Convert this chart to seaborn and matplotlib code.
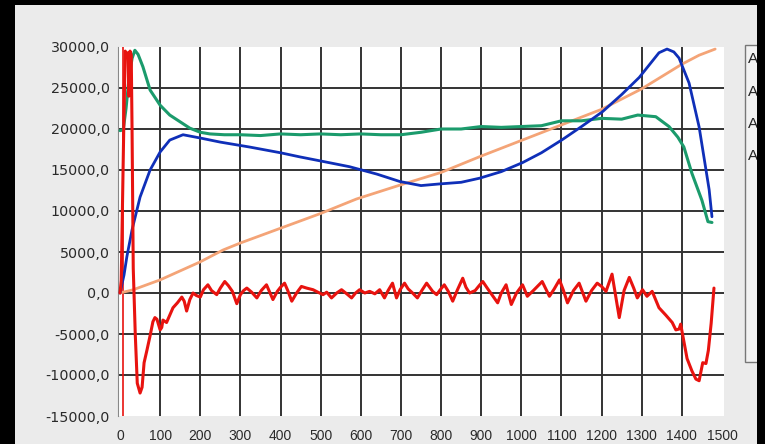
"""Recreate the four-trace recorder chart (grey panel, black grid)."""

import matplotlib.pyplot as plt
import matplotlib.ticker as mticker
import numpy as np
import pandas as pd
import seaborn as sns
from matplotlib.patches import Rectangle

# ---- data --------------------------------------------------------------
orange_x = [0, 33, 100, 200, 257, 300, 400, 500, 589, 700, 800, 900, 1000,
            1100, 1200, 1300, 1400, 1443, 1483]
orange_y = [0, 400, 1600, 3800, 5250, 6100, 7900, 9700, 11460, 13200, 14700,
            16700, 18600, 20500, 22400, 24900, 27900, 29000, 29750]

green_x = [0, 8, 15, 22, 30, 37, 45, 57, 75, 100, 124, 149, 174, 200, 224,
           260, 300, 350, 400, 450, 500, 550, 600, 650, 700, 750, 800, 850,
           900, 950, 1000, 1050, 1100, 1150, 1200, 1250, 1290, 1335, 1368,
           1390, 1405, 1425, 1450, 1465, 1475]
green_y = [19800, 19900, 22500, 26000, 28600, 29600, 29100, 27600, 24750,
           22900, 21700, 20900, 20100, 19600, 19400, 19300, 19300, 19200,
           19400, 19300, 19400, 19300, 19400, 19300, 19300, 19600, 20000,
           20000, 20300, 20200, 20300, 20400, 21000, 21000, 21300, 21200,
           21700, 21500, 20300, 19000, 17800, 14600, 11300, 8700, 8600]

blue_x = [0, 10, 17, 30, 50, 75, 100, 124, 157, 200, 250, 323, 400, 448, 500,
          572, 640, 697, 750, 796, 850, 896, 950, 1003, 1050, 1102, 1150,
          1202, 1250, 1294, 1343, 1363, 1380, 1393, 1418, 1443, 1468, 1475]
blue_y = [0, 2200, 4400, 7700, 11700, 15000, 17200, 18650, 19300, 18900,
          18400, 17800, 17100, 16600, 16100, 15400, 14500, 13600, 13100,
          13300, 13500, 14000, 14800, 15900, 17100, 18700, 20300, 22100,
          24200, 26300, 29300, 29750, 29400, 28650, 25600, 20250, 12600, 9300]

# red trace: start spike, recovery, noisy middle, final dip
red_x = ([0, 3, 6, 10, 13, 17, 20, 22, 25, 28, 30, 33, 38, 43, 50, 55, 60,
          67, 75, 82, 87, 92, 100, 104, 107, 116, 124, 132, 143, 154, 160,
          166, 174]
         + [182, 190, 200, 208, 219, 228, 241, 250, 261, 270, 280, 291, 300,
            308, 316, 328, 341, 352, 365, 372, 381, 392, 400, 410, 418, 428,
            440, 452, 465, 481, 493, 506, 515, 527, 540, 552, 565, 577, 587,
            597, 610, 622, 635, 647, 659, 668, 679, 689, 698, 709, 718, 729,
            741, 752, 764, 779, 789, 798, 808, 818, 829, 840, 854, 862, 871,
            885, 895, 904, 915, 928, 941, 950, 962, 975, 988, 1003, 1015,
            1030, 1040, 1052, 1070, 1082, 1095, 1105, 1115, 1130, 1144, 1161,
            1175, 1189, 1200, 1211]
         + [1226, 1244, 1256, 1269, 1280, 1289, 1302, 1313, 1326, 1343, 1360,
            1376, 1385, 1393, 1397, 1413, 1425, 1435, 1443, 1452, 1460, 1466,
            1473, 1480])
red_y = ([0, 1500, 10500, 22000, 29500, 29000, 29300, 24000, 29500, 29000,
          20000, 3000, -5000, -11000, -12200, -11500, -8500, -7000, -5200,
          -3500, -3000, -3200, -4500, -4200, -3300, -3600, -2700, -1800,
          -1200, -500, -1000, -2200, -800]
         + [0, -300, -500, 400, 1000, 300, -200, 600, 1400, 900, 200, -1300,
            -200, 300, 600, 100, -600, 300, 1000, 200, -800, 200, 700, 1200,
            300, -1000, 0, 800, 600, 400, 100, -200, 100, -600, 0, 400, -100,
            -600, 0, 400, 0, 200, -100, 400, -600, 300, 1200, -600, 400, 1200,
            500, 0, -600, 300, 1200, 200, -200, 400, 1000, 200, -1000, 300,
            1800, 700, 0, 300, 900, 1400, 600, -300, -1200, 0, 1000, -1400, 0,
            1000, -400, 300, 800, 1400, -400, 500, 1600, 300, -1200, 300,
            1200, -1000, 300, 1200, 800, 200]
         + [2300, -3000, 300, 1900, 600, -600, 400, -400, 200, -1800, -2700,
            -3600, -4500, -4400, -3800, -8000, -9500, -10500, -10700, -8500,
            -8600, -7000, -3700, 600])

cursor_x = 8
legend_labels = ["A", "A", "A", "A"]
x_ticks = list(range(0, 1501, 100))
y_ticks = list(range(-15000, 30001, 5000))

series = [
    ("orange", orange_x, orange_y, "#f4a477", 2.0),
    ("green", green_x, green_y, "#1b9b6c", 2.2),
    ("blue", blue_x, blue_y, "#0f2fb8", 2.0),
    ("red", red_x, red_y, "#e8130f", 2.2),
]

# ---- figure ------------------------------------------------------------
sns.set_style("white")
plt.rcParams["font.family"] = ["DejaVu Sans"]

W, H = 765, 444
fig = plt.figure(figsize=(W / 100, H / 100), dpi=100, facecolor="black")
# grey panel behind everything
fig.patches.append(Rectangle((15 / W, 0), (757 - 15) / W, 1 - 5 / H,
                             transform=fig.transFigure, facecolor="#ebebeb",
                             edgecolor="none", zorder=-10))

ax = fig.add_axes([118 / W, 1 - 416 / H, (724 - 118) / W, (416 - 47) / H])
ax.set_facecolor("white")
ax.set_xlim(-5, 1505)
ax.set_ylim(-15000, 30000)

for v in y_ticks[1:-1]:
    ax.axhline(v, color="#333333", lw=1.4, zorder=1)
for v in x_ticks[1:-1]:
    ax.axvline(v, color="#333333", lw=1.4, zorder=1)

ax.axvline(cursor_x, color="#e8130f", lw=1.2, zorder=2)

for name, xs, ys, col, lw in series:
    df = pd.DataFrame({"x": xs, "y": ys})
    sns.lineplot(data=df, x="x", y="y", ax=ax, color=col, lw=lw,
                 estimator=None, sort=False, zorder=3)

ax.set_xticks(x_ticks)
ax.set_yticks(y_ticks)
ax.yaxis.set_major_formatter(
    mticker.FuncFormatter(lambda v, _: f"{v:.1f}".replace(".", ",")))
ax.tick_params(axis="both", direction="out", length=5, width=1,
               color="#555555", labelcolor="#2a2a2a")
ax.tick_params(axis="y", pad=1, labelsize=10.3)
ax.tick_params(axis="x", pad=4.5, labelsize=10)
for lab in ax.get_xticklabels():
    lab.set_family(["Liberation Sans Narrow", "Liberation Sans"])
ax.set_xlabel("")
ax.set_ylabel("")
for side in ["top", "right", "bottom"]:
    ax.spines[side].set_visible(False)
ax.spines["left"].set_color("#888888")

# legend box (cut off by the frame on the right)
fig.patches.append(Rectangle((745 / W, 1 - 362 / H), 30 / W, (362 - 45) / H,
                             transform=fig.transFigure, facecolor="#f2f2f2",
                             edgecolor="#777777", lw=1, zorder=5))
for i, lab in enumerate(legend_labels):
    fig.text(748 / W, 1 - (59 + i * 32.5) / H, lab, fontsize=11,
             family=["Liberation Sans Narrow", "Liberation Sans"],
             color="#222222", va="center", ha="left", zorder=6)

# black frame on the right
fig.patches.append(Rectangle((757 / W, 0), 8 / W, 1,
                             transform=fig.transFigure, facecolor="black",
                             edgecolor="none", zorder=10))

fig.savefig("out.png", dpi=100, facecolor="black")
